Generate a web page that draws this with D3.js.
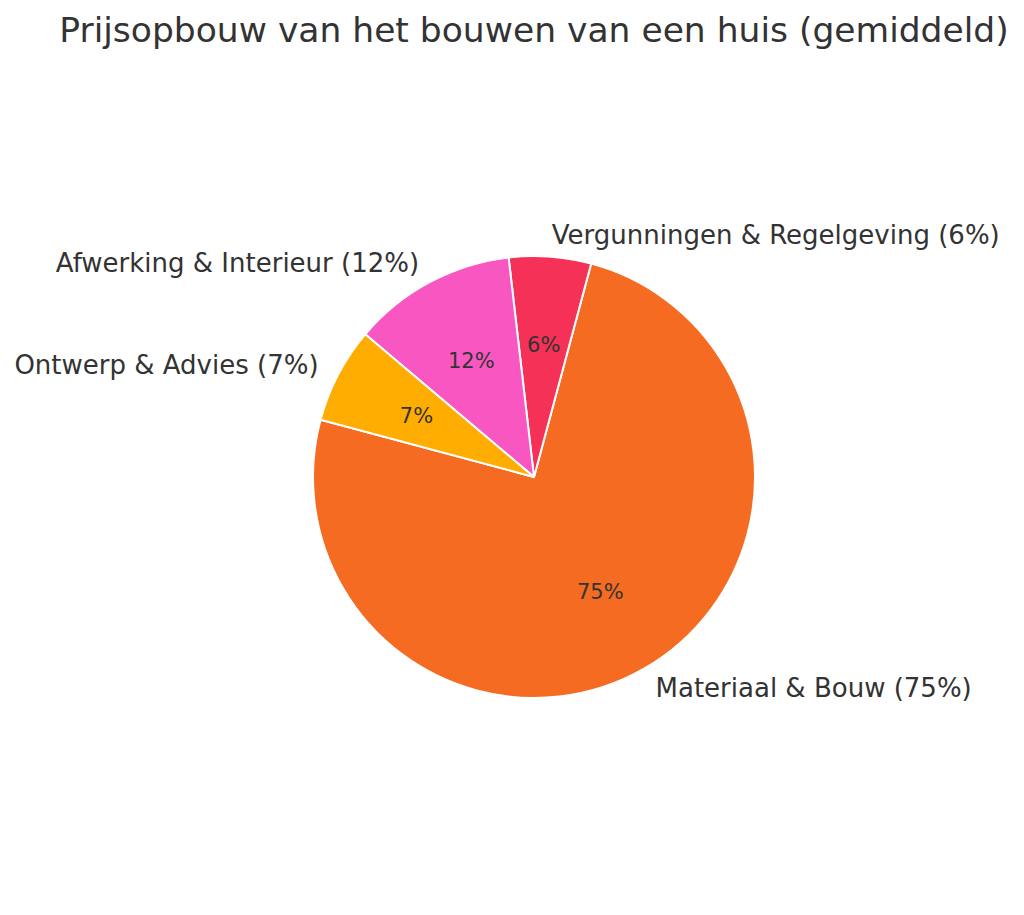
<!DOCTYPE html>
<style>
    body, html {
        margin: 0;
        padding: 0;
        background: #fff;
    }
    text {
        font-family: "DejaVu Sans", sans-serif;
        fill: #333333;
    }
</style>
<svg width="1024" height="915"></svg>
<script src="https://d3js.org/d3.v7.min.js"></script>
<script>
    // Data, in drawing order (counter-clockwise from the start angle)
    var categories = ["Materiaal & Bouw", "Vergunningen & Regelgeving", "Afwerking & Interieur", "Ontwerp & Advies"];
    var shares = [75, 6, 12, 7];
    var colors = ["#F46B21", "#F53157", "#F857C2", "#FFAD00"];

    var svg = d3.select("svg"),
        cx = 534,
        cy = 477,
        radius = 221;

    svg.append("text")
        .attr("x", cx)
        .attr("y", 42)
        .attr("text-anchor", "middle")
        .attr("font-size", 34.5)
        .text("Prijsopbouw van het bouwen van een huis (gemiddeld)");

    var g = svg.append("g").attr("transform", "translate(" + cx + "," + cy + ")");

    // start at 165° (counter-clockwise from +x), turning counter-clockwise
    var startDeg = 90 - 165;
    var pie = d3.pie()
        .sort(null)
        .value(function (d) { return d; })
        .startAngle(startDeg * Math.PI / 180)
        .endAngle((startDeg - 360) * Math.PI / 180);

    var arcs = pie(shares);
    var arc = d3.arc().innerRadius(0).outerRadius(radius);

    g.selectAll("path")
        .data(arcs)
        .enter().append("path")
        .attr("d", arc)
        .attr("fill", function (d, i) { return colors[i]; })
        .attr("stroke", "#fff")
        .attr("stroke-width", 2)
        .attr("stroke-linejoin", "round");

    function mid(d) { return (d.startAngle + d.endAngle) / 2; }

    // outer labels
    g.selectAll("text.label")
        .data(arcs)
        .enter().append("text")
        .attr("class", "label")
        .attr("x", function (d) { return Math.sin(mid(d)) * radius * 1.1; })
        .attr("y", function (d) { return -Math.cos(mid(d)) * radius * 1.1; })
        .attr("dy", "0.36em")
        .attr("text-anchor", function (d) { return Math.sin(mid(d)) >= 0 ? "start" : "end"; })
        .attr("font-size", 26)
        .text(function (d, i) { return categories[i] + " (" + shares[i] + "%)"; });

    // percentages inside
    g.selectAll("text.pct")
        .data(arcs)
        .enter().append("text")
        .attr("class", "pct")
        .attr("x", function (d) { return Math.sin(mid(d)) * radius * 0.6; })
        .attr("y", function (d) { return -Math.cos(mid(d)) * radius * 0.6; })
        .attr("dy", "0.36em")
        .attr("text-anchor", "middle")
        .attr("font-size", 21)
        .text(function (d, i) { return shares[i] + "%"; });
</script>
